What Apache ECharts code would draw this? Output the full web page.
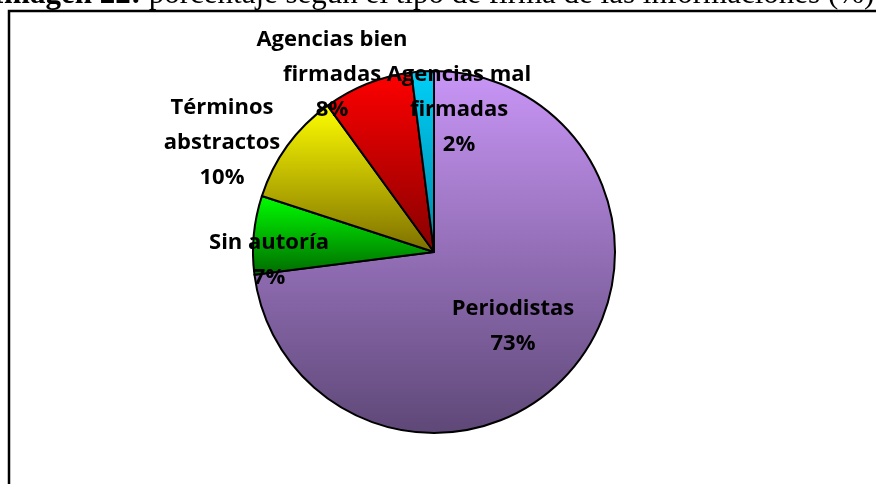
<!DOCTYPE html>
<html>
<head>
<meta charset="utf-8">
<script src="https://cdn.jsdelivr.net/npm/echarts@6/dist/echarts.min.js"></script>
<style>
  html, body { margin: 0; padding: 0; background: #fff; }
  #main { width: 876px; height: 484px; }
</style>
</head>
<body>
<div id="main"></div>
<script>
// data
const categories = ["Periodistas", "Sin autoría", "Términos abstractos", "Agencias bien firmadas", "Agencias mal firmadas"];
const percents = [73, 7, 10, 8, 2];

// gradient top / bottom colours for each slice
const topColors = ["#c996f7", "#00ff00", "#ffff00", "#ff0000", "#00d0f8"];
const bottomColors = ["#5e4877", "#006a00", "#7c6e00", "#860000", "#0086a6"];

// label anchors, offsets from the pie centre (px)
const labelOffsets = [[79, 74], [-165, 8], [-212, -109], [-102, -177], [25, -142]];

const cx = 434, cy = 252, radius = 181;

function wrapName(name) {
  const words = name.split(" ");
  if (words.length < 2 || name.length <= 12) return name;
  return words.slice(0, -1).join(" ") + "\n" + words[words.length - 1];
}

const chart = echarts.init(document.getElementById("main"));

const option = {
  animation: false,
  backgroundColor: "#fff",
  graphic: [
    {
      type: "rect",
      z: 0,
      shape: { x: 9, y: 11, width: 900, height: 500 },
      style: { fill: "none", stroke: "#000", lineWidth: 2.5 },
    },
    {
      type: "text",
      z: 0,
      x: -8,
      y: 10,
      style: {
        text: "{b|Imagen 22:}{n| porcentaje según el tipo de firma de las informaciones (%)}",
        verticalAlign: "bottom",
        rich: {
          b: { fontFamily: "Liberation Serif", fontSize: 31, fontWeight: "bold", fill: "#000" },
          n: { fontFamily: "Liberation Serif", fontSize: 31, fill: "#000" },
        },
      },
    },
  ],
  series: [
    {
      type: "pie",
      center: [cx, cy],
      radius: radius,
      startAngle: 90,
      clockwise: true,
      avoidLabelOverlap: false,
      labelLine: { show: false },
      itemStyle: { borderColor: "#000", borderWidth: 2 },
      label: {
        show: true,
        position: "inside",
        color: "#000",
        fontFamily: "Open Sans",
        fontWeight: "bold",
        fontSize: 22,
        lineHeight: 35,
        align: "center",
        formatter: (p) => wrapName(p.name) + "\n" + percents[p.dataIndex] + "%",
      },
      labelLayout: (p) => ({
        x: cx + labelOffsets[p.dataIndex][0],
        y: cy + labelOffsets[p.dataIndex][1],
        align: "center",
        verticalAlign: "middle",
      }),
      emphasis: { disabled: true },
      data: categories.map((name, i) => ({
        name: name,
        value: percents[i],
        itemStyle: {
          color: new echarts.graphic.LinearGradient(0, 0, 0, 1, [
            { offset: 0, color: topColors[i] },
            { offset: 1, color: bottomColors[i] },
          ]),
        },
      })),
    },
  ],
};

chart.setOption(option);
</script>
</body>
</html>
